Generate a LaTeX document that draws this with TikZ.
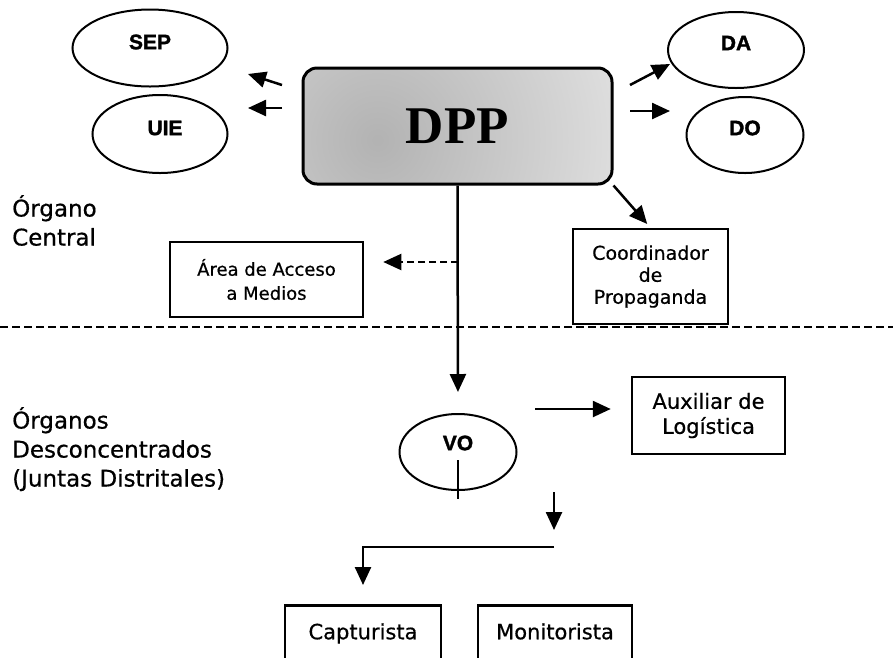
\documentclass[tikz,border=0pt]{standalone}
\usepackage{fontspec}
\setmainfont{DejaVu Sans}
\newfontfamily\postfont{DejaVu Sans}[FakeBold=0.6]
\newfontfamily\unitfont{Liberation Sans}[BoldFeatures={FakeBold=1.5}]
\newfontfamily\dppfont{Liberation Serif}
\usetikzlibrary{shapes.geometric,arrows.meta}

\begin{document}
\begin{tikzpicture}[x=1pt, y=-1pt,
  unit/.style={draw, ellipse, line width=2pt, inner sep=0pt},
  unitlabel/.style={inner sep=0pt, font=\unitfont\bfseries\fontsize{21}{21}\selectfont},
  post/.style={draw, rectangle, line width=2.5pt, align=center, inner sep=0pt},
  arr/.style={-{Triangle[length=18pt,width=16pt]}, line width=2.5pt},
  side/.style={align=left, anchor=north west, inner sep=0pt, font=\postfont\fontsize{23}{29}\selectfont}]
  % Define colors
  \colorlet{dppfill}{gray!18}
  \colorlet{dppshade}{gray!60}

  \useasboundingbox (0,0) rectangle (893,657);
  \clip (0,0) rectangle (893,657);

  % Central office
  \node[draw, rounded corners=14pt, line width=3pt, fill=dppfill,
        minimum width=309pt, minimum height=116pt,
        path picture={\shade[inner color=dppshade, outer color=dppfill]
          ([xshift=-80pt,yshift=-14pt]path picture bounding box.center) circle (300pt);},
        font=\dppfont\bfseries\fontsize{53}{53}\selectfont] (dpp) at (457.5,126) {DPP};

  % Units around DPP
  \node[unit, minimum width=155pt, minimum height=77pt] (sep) at (150,48) {};
  \node[unitlabel] (seplabel) at ([yshift=6pt]sep.center) {SEP};
  \node[unit, minimum width=135pt, minimum height=78pt] (uie) at (160,134) {};
  \node[unitlabel] (uielabel) at ([xshift=5pt,yshift=6pt]uie.center) {UIE};
  \node[unit, minimum width=136pt, minimum height=76pt] (da) at (736,50) {};
  \node[unitlabel] (dalabel) at ([yshift=7pt]da.center) {DA};
  \node[unit, minimum width=117pt, minimum height=76pt] (do) at (745,135) {};
  \node[unitlabel] (dolabel) at ([yshift=7pt]do.center) {DO};

  % Posts of the central office
  \node[post, minimum width=193pt, minimum height=75pt,
        font=\postfont\fontsize{18}{24}\selectfont] (access) at (266.5,279.5) {Área de Acceso\\a Medios};
  \node[post, minimum width=155pt, minimum height=95pt,
        font=\postfont\fontsize{19}{22}\selectfont] (coord) at (650.5,276.5) {Coordinador\\de\\Propaganda};

  % Side labels
  \node[side] (central) at (12,195) {Órgano\\Central};
  \node[side] (districts) at (12,407) {Órganos\\Desconcentrados\\(Juntas Distritales)};

  % Boundary between levels
  \draw[line width=2pt, dash pattern=on 8pt off 4pt] (0,327) -- (893,327);

  % District units
  \node[unit, minimum width=117pt, minimum height=76pt] (vo) at (458,452) {};
  \node[unitlabel] (volabel) at ([yshift=9pt]vo.center) {VO};
  \node[post, minimum width=153pt, minimum height=77pt,
        font=\postfont\fontsize{21}{25}\selectfont] (aux) at (708.5,415.5) {Auxiliar de\\Logística};
  \node[post, anchor=north, minimum width=156pt, text height=26pt, text depth=60pt,
        inner ysep=8pt, font=\postfont\fontsize{21}{25}\selectfont] (capt) at (363,604) {Capturista};
  \node[post, anchor=north, minimum width=154pt, text height=26pt, text depth=60pt,
        inner ysep=8pt, font=\postfont\fontsize{21}{25}\selectfont] (monit) at (555,604) {Monitorista};

  % Arrow ends
  \coordinate (sepfrom) at (282,85);
  \coordinate (septo) at (248,74);
  \coordinate (uiefrom) at (282,108);
  \coordinate (uieto) at (248,108);
  \coordinate (dafrom) at (630,85);
  \coordinate (dato) at (670,64);
  \coordinate (dofrom) at (630,111);
  \coordinate (doto) at (670,111);
  \coordinate (tap) at (458,262);
  \coordinate (vofrom) at (535,409);
  \coordinate (dropfrom) at (554,492);
  \coordinate (dropto) at (554,530);
  \coordinate (elbow) at (554,547);

  % Arrows of the central office
  \draw[arr] (sepfrom) -- (septo);
  \draw[arr] (uiefrom) -- (uieto);
  \draw[arr] (dafrom) -- (dato);
  \draw[arr] (dofrom) -- (doto);
  \draw[arr, shorten >=5pt] (dpp.south east) -- (coord.north);
  \draw[arr, shorten >=21pt] (dpp.south) -- (vo.north);
  \draw[arr, line width=2pt, dash pattern=on 7pt off 4pt, shorten >=19pt] (tap) -- (tap -| access.east);

  % Arrows of the district
  \draw[line width=1.5pt] ([yshift=-8pt]vo.center) -- ([yshift=-47pt]vo.center);
  \draw[arr, shorten >=20pt] (vofrom) -- (vofrom -| aux.west);
  \draw[arr] (dropfrom) -- (dropto);
  \draw[arr, shorten >=19pt] (elbow) -| (capt.north);
\end{tikzpicture}
\end{document}
